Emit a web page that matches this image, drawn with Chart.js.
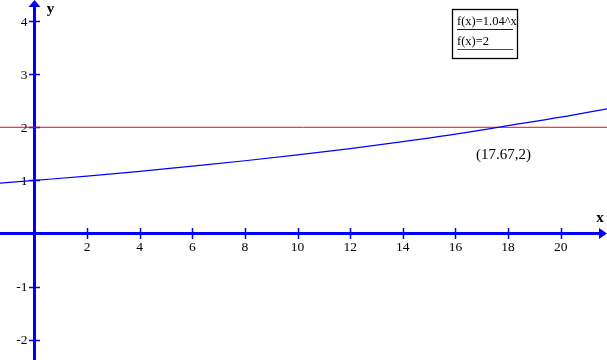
<!DOCTYPE html>
<html>
<head>
<meta charset="utf-8">
<script src="https://cdn.jsdelivr.net/npm/chart.js@4"></script>
<style>
html,body{margin:0;padding:0;background:#fff;}
#wrap{width:607px;height:360px;}
</style>
</head>
<body>
<div id="wrap"><canvas id="c" width="607" height="360"></canvas></div>
<script>
// ---- data ----
const curveX = [-2, 0, 2, 4, 6, 8, 10, 12, 14, 16, 18, 20, 22];
const curveY = [0.92, 1.00, 1.08, 1.17, 1.27, 1.37, 1.48, 1.60, 1.73, 1.87, 2.03, 2.19, 2.37];
const constX = [-2, 22];
const constY = [2, 2];
const seriesNames = ["f(x)=1.04^x", "f(x)=2"];
const seriesColors = ["#0000ff", "#ff0000"];
const xTicks = [2, 4, 6, 8, 10, 12, 14, 16, 18, 20];
const yTicks = [-2, -1, 1, 2, 3, 4];
const xRange = [-1.311, 21.76];
const yRange = [-2.382, 4.397];
const pointLabel = "(17.67,2)";
const pointLabelPos = [17.83, 1.47];
const axisNames = ["x", "y"];

const AXIS = "#0000ff";

const axesPlugin = {
  id: "centerAxes",
  beforeDatasetsDraw(chart) {
    const ctx = chart.ctx, xs = chart.scales.x, ys = chart.scales.y;
    const x0 = xs.getPixelForValue(0), y0 = ys.getPixelForValue(0);
    const a = chart.chartArea;
    ctx.save();
    ctx.strokeStyle = AXIS; ctx.fillStyle = AXIS;
    ctx.lineWidth = 3;
    ctx.beginPath();
    ctx.moveTo(a.left, y0); ctx.lineTo(a.right - 6, y0);
    ctx.moveTo(x0, a.bottom); ctx.lineTo(x0, a.top + 6);
    ctx.stroke();
    // arrows
    ctx.beginPath();
    ctx.moveTo(a.right, y0); ctx.lineTo(a.right - 8, y0 - 5.5); ctx.lineTo(a.right - 8, y0 + 5.5); ctx.closePath();
    ctx.fill();
    ctx.beginPath();
    ctx.moveTo(x0, a.top); ctx.lineTo(x0 - 6, a.top + 7); ctx.lineTo(x0 + 6, a.top + 7); ctx.closePath();
    ctx.fill();
    // ticks
    ctx.lineWidth = 1.5;
    ctx.beginPath();
    xTicks.forEach(v => { const px = Math.round(xs.getPixelForValue(v)) + 0.5; ctx.moveTo(px, y0 - 5.5); ctx.lineTo(px, y0 + 5.5); });
    yTicks.forEach(v => { const py = Math.round(ys.getPixelForValue(v)) + 0.5; ctx.moveTo(x0 - 5.5, py); ctx.lineTo(x0 + 5.5, py); });
    ctx.stroke();
    // tick labels
    ctx.fillStyle = "#000";
    ctx.font = "13.5px 'Liberation Serif', serif";
    ctx.textAlign = "center"; ctx.textBaseline = "alphabetic";
    xTicks.forEach(v => { ctx.fillText(String(v), xs.getPixelForValue(v), y0 + 17); });
    ctx.textAlign = "right"; ctx.textBaseline = "middle";
    yTicks.forEach(v => { ctx.fillText(String(v), x0 - 7, ys.getPixelForValue(v) + 1); });
    // axis names
    ctx.font = "bold 15px 'Liberation Serif', serif";
    ctx.textAlign = "center"; ctx.textBaseline = "middle";
    ctx.fillText(axisNames[0], a.right - 7, y0 - 15);
    ctx.fillText(axisNames[1], x0 + 16, a.top + 9);
    ctx.restore();
  },
  afterDatasetsDraw(chart) {
    const ctx = chart.ctx, xs = chart.scales.x, ys = chart.scales.y;
    ctx.save();
    // point label
    ctx.fillStyle = "#000";
    ctx.font = "15px 'Liberation Serif', serif";
    ctx.textAlign = "center"; ctx.textBaseline = "middle";
    ctx.fillText(pointLabel, xs.getPixelForValue(pointLabelPos[0]), ys.getPixelForValue(pointLabelPos[1]));
    // legend box
    const bx = 452.5, by = 9.5, bw = 65, bh = 49;
    ctx.fillStyle = "#fff";
    ctx.fillRect(bx, by, bw, bh);
    ctx.strokeStyle = "#000"; ctx.lineWidth = 1.3;
    ctx.strokeRect(bx, by, bw, bh);
    ctx.font = "12.5px 'Liberation Serif', serif";
    ctx.textAlign = "left"; ctx.textBaseline = "alphabetic";
    chart.data.datasets.forEach((ds, i) => {
      const ty = 25 + i * 20;
      ctx.fillStyle = "#000";
      ctx.fillText(ds.label, 457, ty);
      ctx.strokeStyle = ds.borderColor; ctx.lineWidth = 1;
      ctx.beginPath(); ctx.moveTo(457, ty + 4.5); ctx.lineTo(513, ty + 4.5); ctx.stroke();
    });
    ctx.restore();
  }
};

new Chart(document.getElementById("c"), {
  type: "scatter",
  data: {
    datasets: [
      {
        label: seriesNames[0],
        data: curveX.map((x, i) => ({ x: x, y: curveY[i] })),
        showLine: true, borderColor: seriesColors[0], borderWidth: 1.2,
        pointRadius: 0, cubicInterpolationMode: "monotone"
      },
      {
        label: seriesNames[1],
        data: constX.map((x, i) => ({ x: x, y: constY[i] })),
        showLine: true, borderColor: seriesColors[1], borderWidth: 1,
        pointRadius: 0
      }
    ]
  },
  options: {
    responsive: false,
    animation: false,
    devicePixelRatio: 1,
    layout: { padding: 0 },
    plugins: { legend: { display: false }, tooltip: { enabled: false } },
    scales: {
      x: { type: "linear", min: xRange[0], max: xRange[1], display: false },
      y: { type: "linear", min: yRange[0], max: yRange[1], display: false }
    }
  },
  plugins: [axesPlugin]
});
</script>
</body>
</html>
